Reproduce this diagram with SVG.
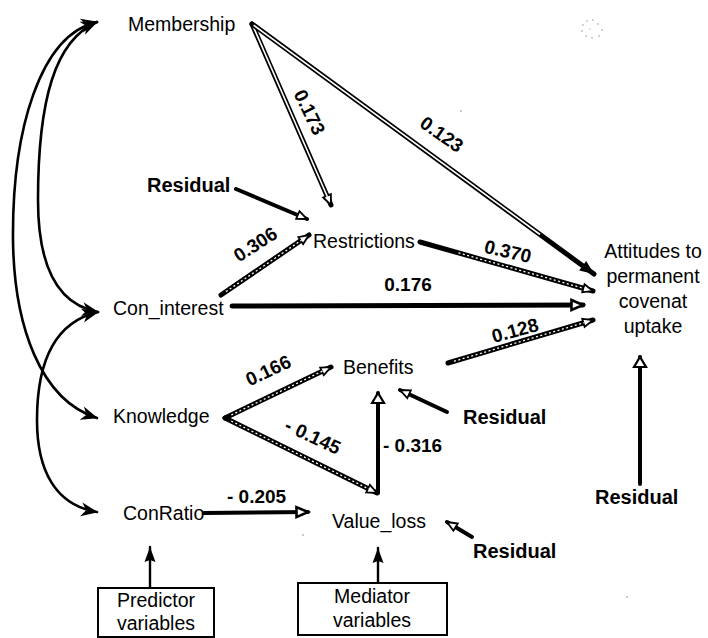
<svg xmlns="http://www.w3.org/2000/svg" width="708" height="638" viewBox="0 0 708 638">
  <style>
    .t { font-family: "Liberation Sans", Arial, Helvetica, sans-serif; font-size: 19.5px; fill: #000; }
    .b { font-weight: bold; font-size: 20px; }
    .num { font-family: "Liberation Sans", Arial, Helvetica, sans-serif; font-size: 19px; font-weight: bold; fill: #000; }
    .mid { text-anchor: middle; }
    .k { fill: none; stroke: #000; stroke-linecap: round; }
    .thick { stroke-width: 5; }
    .solid { stroke-width: 4; }
    .thin { stroke-width: 2.4; }
    .curve { stroke-width: 2.6; }
    .hollow { fill: none; stroke: #fff; stroke-width: 1.6; }
    .hatch { fill: none; stroke: #fff; stroke-width: 1.3; stroke-dasharray: 2 2.5; }
    .box { fill: #fff; stroke: #000; stroke-width: 2; }
  </style>
  <defs>
    <!-- small open head used on the path coefficients -->
    <marker id="hOpen" viewBox="0 0 12 10" refX="11" refY="5" markerWidth="12" markerHeight="10" markerUnits="userSpaceOnUse" orient="auto" overflow="visible">
      <path d="M1,0.8 L11,5 L1,9.2 Z" fill="#fff" stroke="#000" stroke-width="1.8" stroke-linejoin="miter"/>
    </marker>
    <!-- heavier open head for the direct Con_interest path -->
    <marker id="hOpenBig" viewBox="0 0 14 12" refX="13" refY="6" markerWidth="14" markerHeight="12" markerUnits="userSpaceOnUse" orient="auto" overflow="visible">
      <path d="M1.5,1 L13,6 L1.5,11 Z" fill="#fff" stroke="#000" stroke-width="2.6" stroke-linejoin="miter"/>
    </marker>
    <!-- open triangle for the vertical arrows -->
    <marker id="hTri" viewBox="0 0 12 14" refX="11" refY="7" markerWidth="12" markerHeight="14" markerUnits="userSpaceOnUse" orient="auto" overflow="visible">
      <path d="M1,1 L11,7 L1,13 Z" fill="#fff" stroke="#000" stroke-width="2.2" stroke-linejoin="miter"/>
    </marker>
    <!-- solid heads -->
    <marker id="hFill" viewBox="0 0 14 12" refX="14" refY="6" markerWidth="14" markerHeight="12" markerUnits="userSpaceOnUse" orient="auto" overflow="visible">
      <path d="M0,0 L14,6 L0,12 Z" fill="#000"/>
    </marker>
    <marker id="hBox" viewBox="0 0 15 12" refX="15" refY="6" markerWidth="15" markerHeight="12" markerUnits="userSpaceOnUse" orient="auto" overflow="visible">
      <path d="M0,0.5 L15,6 L0,11.5 L2,6 Z" fill="#000"/>
    </marker>
    <!-- barbed heads on the correlation curves -->
    <marker id="hCurve" viewBox="0 0 17 14" refX="16" refY="7" markerWidth="17" markerHeight="14" markerUnits="userSpaceOnUse" orient="auto-start-reverse" overflow="visible">
      <path d="M0,0 L17,7 L0,14 L5,7 Z" fill="#000"/>
    </marker>
  </defs>

  <rect width="708" height="638" fill="#fff"/>

  <g id="connectors">
    <!-- correlations between predictors -->
    <path class="k curve" d="M97,22 C40,35 12,130 13,240 C14,325 40,400 97,418" marker-start="url(#hCurve)" marker-end="url(#hCurve)"/>
    <path class="k curve" d="M97,22 C55,40 38,100 38,200 C38,270 60,305 98,312" marker-start="url(#hCurve)" marker-end="url(#hCurve)"/>
    <path class="k curve" d="M98,312 C55,322 37,360 37,420 C37,470 55,505 97,512" marker-start="url(#hCurve)" marker-end="url(#hCurve)"/>

    <!-- Membership -> Restrictions (0.173) -->
    <line class="k thick" x1="252" y1="24" x2="331" y2="205" marker-end="url(#hOpen)"/>
    <line class="hollow" x1="253" y1="26" x2="327.4" y2="196.8"/>
    <!-- Membership -> Attitudes (0.123) -->
    <line class="k thick" x1="252" y1="24" x2="594" y2="274" marker-end="url(#hFill)"/>
    <line class="hollow" x1="253.6" y1="25.2" x2="540" y2="234.5"/>

    <!-- Residual -> Restrictions -->
    <line class="k solid" x1="236" y1="189" x2="307" y2="219" marker-end="url(#hOpen)"/>
    <!-- Con_interest -> Restrictions (0.306) -->
    <line class="k thick" x1="221" y1="295" x2="309" y2="235" marker-end="url(#hOpen)"/>
    <line class="hatch" x1="226" y1="291.6" x2="301.6" y2="240.1"/>
    <!-- Restrictions -> Attitudes (0.370) -->
    <line class="k thick" x1="420" y1="242" x2="593" y2="291" marker-end="url(#hOpen)"/>
    <line class="hatch" x1="458.5" y1="252.9" x2="584.3" y2="288.5"/>
    <!-- Con_interest -> Attitudes (0.176) -->
    <line class="k thick" x1="232" y1="306" x2="583" y2="305" marker-end="url(#hOpenBig)"/>
    <!-- Benefits -> Attitudes (0.128) -->
    <line class="k thick" x1="448" y1="363" x2="593" y2="320" marker-end="url(#hOpen)"/>
    <line class="hatch" x1="454" y1="361.3" x2="584.4" y2="322.6"/>
    <!-- Knowledge -> Benefits (0.166) -->
    <line class="k thick" x1="225" y1="418" x2="331" y2="367" marker-end="url(#hOpen)"/>
    <line class="hatch" x1="231.3" y1="415" x2="322.9" y2="370.9"/>
    <!-- Knowledge -> Value_loss (-0.145) -->
    <line class="k thick" x1="225" y1="418" x2="377" y2="493" marker-end="url(#hOpen)"/>
    <line class="hatch" x1="231.3" y1="421.1" x2="368.9" y2="489"/>
    <!-- Value_loss -> Benefits (-0.316) -->
    <line class="k solid" x1="378" y1="493" x2="378" y2="393" marker-end="url(#hTri)"/>
    <!-- residuals of the mediators and the outcome -->
    <line class="k solid" x1="447" y1="412" x2="400" y2="390" marker-end="url(#hOpen)"/>
    <line class="k solid" x1="472" y1="537" x2="447" y2="522" marker-end="url(#hOpen)"/>
    <line class="k solid" x1="640" y1="484" x2="640" y2="357" marker-end="url(#hTri)"/>
    <!-- ConRatio -> Value_loss (-0.205) -->
    <line class="k solid" x1="204" y1="513" x2="308" y2="512" marker-end="url(#hOpenBig)"/>
    <!-- legend pointers -->
    <line class="k thin" x1="150" y1="588" x2="150" y2="547" marker-end="url(#hBox)"/>
    <line class="k thin" x1="378" y1="583" x2="378" y2="548" marker-end="url(#hBox)"/>
  </g>

  <g id="edge-labels">
    <text class="num mid" transform="translate(310,112) rotate(64)" y="7">0.173</text>
    <text class="num mid" transform="translate(442,134) rotate(35)" y="7">0.123</text>
    <text class="num mid" transform="translate(255,244) rotate(-33)" y="7">0.306</text>
    <text class="num mid" transform="translate(508,251) rotate(13)" y="7">0.370</text>
    <text class="num mid" x="408" y="291">0.176</text>
    <text class="num mid" transform="translate(515,330) rotate(-15)" y="7">0.128</text>
    <text class="num mid" transform="translate(268,370) rotate(-25)" y="7">0.166</text>
    <text class="num mid" transform="translate(313,436) rotate(25)" y="7">- 0.145</text>
    <text class="num" x="383" y="452">- 0.316</text>
    <text class="num" x="227" y="503">- 0.205</text>
  </g>

  <g id="node-membership"><text class="t" x="128" y="31">Membership</text></g>
  <g id="node-residual-restrictions"><text class="t b" x="147" y="192">Residual</text></g>
  <g id="node-restrictions"><text class="t" x="313" y="248">Restrictions</text></g>
  <g id="node-con-interest"><text class="t" x="113" y="315">Con_interest</text></g>
  <g id="node-knowledge"><text class="t" x="113" y="423">Knowledge</text></g>
  <g id="node-conratio"><text class="t" x="123" y="520">ConRatio</text></g>
  <g id="node-benefits"><text class="t" x="343" y="374">Benefits</text></g>
  <g id="node-value-loss"><text class="t" x="332" y="528">Value_loss</text></g>
  <g id="node-attitudes">
    <text class="t mid" x="653" y="258">Attitudes to</text>
    <text class="t mid" x="653" y="283">permanent</text>
    <text class="t mid" x="653" y="308">covenat</text>
    <text class="t mid" x="653" y="333">uptake</text>
  </g>
  <g id="node-residual-benefits"><text class="t b" x="463" y="424">Residual</text></g>
  <g id="node-residual-value-loss"><text class="t b" x="473" y="558">Residual</text></g>
  <g id="node-residual-attitudes"><text class="t b" x="595" y="504">Residual</text></g>

  <g id="legend-predictor">
    <rect class="box" x="98" y="588" width="116" height="49"/>
    <text class="t mid" x="156" y="607">Predictor</text>
    <text class="t mid" x="156" y="630">variables</text>
  </g>
  <g id="legend-mediator">
    <rect class="box" x="298" y="583" width="149" height="52"/>
    <text class="t mid" x="372" y="603">Mediator</text>
    <text class="t mid" x="372" y="627">variables</text>
  </g>

  <!-- faint specks in the margin -->
  <g id="specks" fill="#888">
    <circle cx="583" cy="25" r="0.7"/><circle cx="587" cy="21" r="0.7"/><circle cx="593" cy="20" r="0.7"/>
    <circle cx="598" cy="24" r="0.7"/><circle cx="602" cy="30" r="0.7"/><circle cx="599" cy="36" r="0.7"/>
    <circle cx="592" cy="38" r="0.7"/><circle cx="586" cy="36" r="0.7"/><circle cx="582" cy="31" r="0.7"/>
    <circle cx="590" cy="29" r="0.6"/><circle cx="461" cy="111" r="0.8"/><circle cx="303" cy="535" r="0.8"/>
    <circle cx="627" cy="597" r="0.8"/>
  </g>
</svg>
